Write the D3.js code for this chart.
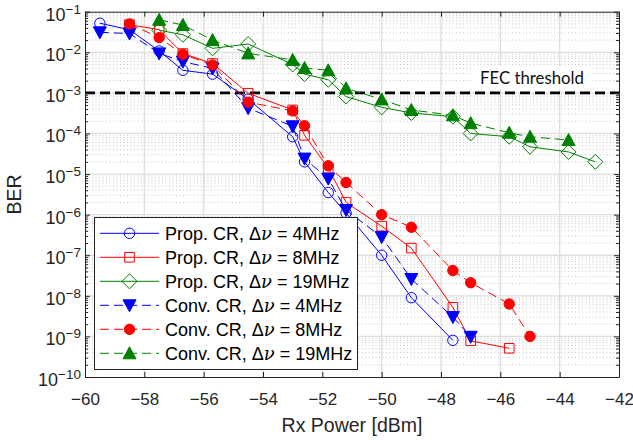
<!DOCTYPE html>
<html><head><meta charset="utf-8">
<script src="https://cdn.jsdelivr.net/npm/d3@7"></script>
<style>body{margin:0;background:#fff}svg{display:block}</style>
</head><body>
<svg id="c" width="633" height="445"></svg>
<script>
// ---- data ----
const xTicks = [-60,-58,-56,-54,-52,-50,-48,-46,-44,-42];
const yExps = [-10,-9,-8,-7,-6,-5,-4,-3,-2,-1];
const fecLevel = 1e-3;

const propBlueX = [-59.5,-58.5,-57.5,-56.7,-55.7,-54.5,-53,-52.6,-51.8,-51.2,-50,-49,-47.6];
const propBlueY = [0.052,0.036,0.0108,0.0036,0.0029,7e-4,8.3e-5,2e-5,3.5e-6,1.1e-6,1e-7,9e-9,8e-10];

const propRedX = [-58.5,-57.5,-56.7,-55.7,-54.5,-53,-52.6,-51.8,-51.2,-50,-49,-47.6,-47,-45.7];
const propRedY = [0.048,0.036,0.0093,0.0053,9.8e-4,3.8e-4,9e-5,1.4e-5,2e-6,5.2e-7,1.5e-7,5.2e-9,7.8e-10,5.1e-10];

const propGreenX = [-57.5,-56.7,-55.7,-54.5,-53,-52.6,-51.8,-51.2,-50,-49,-47.6,-47,-45.7,-45,-43.7,-42.8];
const propGreenY = [0.035,0.027,0.0125,0.016,0.005,0.0029,0.0021,0.00081,0.00044,0.00032,0.00026,1e-4,8.3e-5,4.7e-5,3.5e-5,2e-5];

const convBlueX = [-59.5,-58.5,-57.5,-56.7,-55.7,-54.5,-53,-52.6,-51.8,-51.2,-50,-49,-47.6,-47];
const convBlueY = [0.031,0.029,0.0094,0.0059,0.004,4.2e-4,1.5e-4,2.4e-5,7.7e-6,1.3e-6,2.8e-7,2.6e-8,3e-9,9.8e-10];

const convRedX = [-58.5,-57.5,-56.7,-55.7,-54.5,-53,-52.6,-51.8,-51.2,-50,-49,-47.6,-47,-45.7,-45];
const convRedY = [0.050,0.023,0.0089,0.0049,5.9e-4,3.6e-4,1.55e-4,1.6e-5,6.2e-6,1.0e-6,4.9e-7,4.2e-8,2.1e-8,6.3e-9,1.0e-9];

const convGreenX = [-57.5,-56.7,-55.7,-54.5,-53,-52.6,-51.8,-51.2,-50,-49,-47.6,-47,-45.7,-45,-43.7];
const convGreenY = [0.063,0.047,0.020,0.0094,0.0065,0.0041,0.0036,0.0013,0.00069,0.00038,0.00028,0.00018,1.04e-4,8.3e-5,6.9e-5];

const seriesNames = ["Prop. CR, ","Prop. CR, ","Prop. CR, ","Conv. CR, ","Conv. CR, ","Conv. CR, "];
const seriesBW = [" = 4MHz"," = 8MHz"," = 19MHz"," = 4MHz"," = 8MHz"," = 19MHz"];

// ---- setup ----
const svg = d3.select("#c");
const L=85, R=619, T=11.7, B=377;
const x = d3.scaleLinear().domain([-60,-42]).range([L,R]);
const y = d3.scaleLog().domain([1e-10,1e-1]).range([B,T]);
const font = "'Liberation Sans', Arial, sans-serif";
const txtCol = "#262626";

const series = [
  {xs:propBlueX, ys:propBlueY, color:"#0000ff", dash:null, marker:"circle", fill:false},
  {xs:propRedX, ys:propRedY, color:"#ff0000", dash:null, marker:"square", fill:false},
  {xs:propGreenX, ys:propGreenY, color:"#008000", dash:null, marker:"diamond", fill:false},
  {xs:convBlueX, ys:convBlueY, color:"#0000ff", dash:"9,5", marker:"tridown", fill:true},
  {xs:convRedX, ys:convRedY, color:"#ff0000", dash:"9,5", marker:"circle", fill:true},
  {xs:convGreenX, ys:convGreenY, color:"#008000", dash:"9,5", marker:"triup", fill:true}
];

function markerPath(type){
  switch(type){
    case "circle": return d3.symbol().type(d3.symbolCircle).size(Math.PI*5.2*5.2)();
    case "square": return "M-4.8,-4.8H4.8V4.8H-4.8Z";
    case "diamond": return "M0,-7.5L7.5,0L0,7.5L-7.5,0Z";
    case "tridown": return "M-6.5,-5.5L6.5,-5.5L0,6.5Z";
    case "triup": return "M-6.5,5.5L6.5,5.5L0,-6.5Z";
  }
}

// ---- grid ----
const gGrid = svg.append("g");
const minors = [];
for (let e=-10; e<-1; e++) for (let k=2;k<=9;k++) minors.push(k*Math.pow(10,e));
gGrid.selectAll("line.mn").data(minors).join("line")
  .attr("x1",L).attr("x2",R).attr("y1",d=>y(d)).attr("y2",d=>y(d))
  .attr("stroke","#b8b8b8").attr("stroke-width",0.8).attr("stroke-dasharray","1,2.5");
const decades = yExps.map(e=>Math.pow(10,e));
gGrid.selectAll("line.mjy").data(decades.slice(1,-1)).join("line")
  .attr("x1",L).attr("x2",R).attr("y1",d=>y(d)).attr("y2",d=>y(d))
  .attr("stroke","#dedede").attr("stroke-width",1.3);
gGrid.selectAll("line.mjx").data(xTicks.slice(1,-1)).join("line")
  .attr("y1",T).attr("y2",B).attr("x1",d=>x(d)).attr("x2",d=>x(d))
  .attr("stroke","#dedede").attr("stroke-width",1.3);

// ---- FEC threshold ----
svg.append("rect").attr("x",474).attr("y",66).attr("width",118).attr("height",23).attr("fill","#fff");
svg.append("line").attr("x1",L).attr("x2",R).attr("y1",y(fecLevel)).attr("y2",y(fecLevel))
  .attr("stroke","#000").attr("stroke-width",2.6).attr("stroke-dasharray","10,5");
svg.append("text").attr("x",480).attr("y",83.5).attr("font-family","Lato, 'Open Sans', sans-serif")
  .attr("font-size",16.5).attr("fill","#111").attr("textLength",104).attr("lengthAdjust","spacingAndGlyphs")
  .text("FEC threshold");

// ---- data ----
const line = d3.line();
series.forEach(s=>{
  const pts = s.xs.map((v,i)=>[x(v), y(s.ys[i])]);
  svg.append("path").attr("d",line(pts)).attr("fill","none").attr("stroke",s.color)
    .attr("stroke-width",1).attr("stroke-dasharray",s.dash);
  svg.append("g").selectAll("path").data(pts).join("path")
    .attr("transform",d=>`translate(${d[0]},${d[1]})`).attr("d",markerPath(s.marker))
    .attr("fill",s.fill?s.color:"none").attr("stroke",s.color).attr("stroke-width",1);
});

// ---- axes ----
const axCol = "#222";
function styleAxis(g){ g.selectAll("path.domain").attr("stroke",axCol).attr("stroke-width",1);
  g.selectAll(".tick line").attr("stroke",axCol).attr("stroke-width",1); }
const xb = svg.append("g").attr("transform",`translate(0,${B})`)
  .call(d3.axisBottom(x).tickValues(xTicks).tickSize(-5).tickSizeOuter(0).tickPadding(16)
    .tickFormat(d=>d3.format("d")(d).replace("-","\u2212")));
styleAxis(xb);
xb.selectAll("text").attr("font-family",font).attr("font-size",17).attr("fill",txtCol);
const xt = svg.append("g").attr("transform",`translate(0,${T})`)
  .call(d3.axisTop(x).tickValues(xTicks).tickSize(-5).tickSizeOuter(0).tickFormat(""));
styleAxis(xt);
const yl = svg.append("g").attr("transform",`translate(${L},0)`)
  .call(d3.axisLeft(y).tickValues(decades).tickSize(-5).tickSizeOuter(0).tickFormat(""));
styleAxis(yl);
const ylm = svg.append("g").attr("transform",`translate(${L},0)`)
  .call(d3.axisLeft(y).tickValues(minors).tickSize(-3).tickSizeOuter(0).tickFormat(""));
styleAxis(ylm); ylm.select("path.domain").remove();
const yr = svg.append("g").attr("transform",`translate(${R},0)`)
  .call(d3.axisRight(y).tickValues(decades).tickSize(-5).tickSizeOuter(0).tickFormat(""));
styleAxis(yr);
const yrm = svg.append("g").attr("transform",`translate(${R},0)`)
  .call(d3.axisRight(y).tickValues(minors).tickSize(-3).tickSizeOuter(0).tickFormat(""));
styleAxis(yrm); yrm.select("path.domain").remove();

// y tick labels 10^e
yExps.forEach(e=>{
  const t = svg.append("text").attr("x",81).attr("y",y(Math.pow(10,e))+9)
    .attr("text-anchor","end").attr("font-family",font).attr("font-size",18).attr("fill",txtCol);
  t.append("tspan").text("10");
  t.append("tspan").attr("dy",-7).attr("font-size",13.5).text("\u2212"+Math.abs(e));
});

// axis labels
svg.append("text").attr("x",(L+R)/2).attr("y",432).attr("text-anchor","middle")
  .attr("font-family",font).attr("font-size",19.5).attr("fill",txtCol).text("Rx Power [dBm]");
svg.append("text").attr("transform",`translate(21,${(T+B)/2}) rotate(-90)`).attr("text-anchor","middle")
  .attr("font-family",font).attr("font-size",19.5).attr("fill",txtCol).text("BER");

// ---- legend ----
const lg = svg.append("g");
lg.append("rect").attr("x",94.5).attr("y",217.5).attr("width",263).attr("height",152)
  .attr("fill","#fff").attr("stroke","#222").attr("stroke-width",1);
series.forEach((s,i)=>{
  const cy = 233.3 + i*24;
  lg.append("line").attr("x1",100).attr("x2",159).attr("y1",cy).attr("y2",cy)
    .attr("stroke",s.color).attr("stroke-width",1).attr("stroke-dasharray",s.dash);
  lg.append("path").attr("transform",`translate(129.5,${cy})`).attr("d",markerPath(s.marker))
    .attr("fill",s.fill?s.color:"none").attr("stroke",s.color).attr("stroke-width",1);
  const t = lg.append("text").attr("x",165).attr("y",cy+6.5).attr("font-family",font)
    .attr("font-size",18).attr("fill","#000");
  t.append("tspan").text(seriesNames[i]+"\u0394");
  t.append("tspan").attr("font-family","'DejaVu Serif', serif").attr("font-style","italic").text("\u03BD");
  t.append("tspan").text(seriesBW[i]);
});
</script>
</body></html>
